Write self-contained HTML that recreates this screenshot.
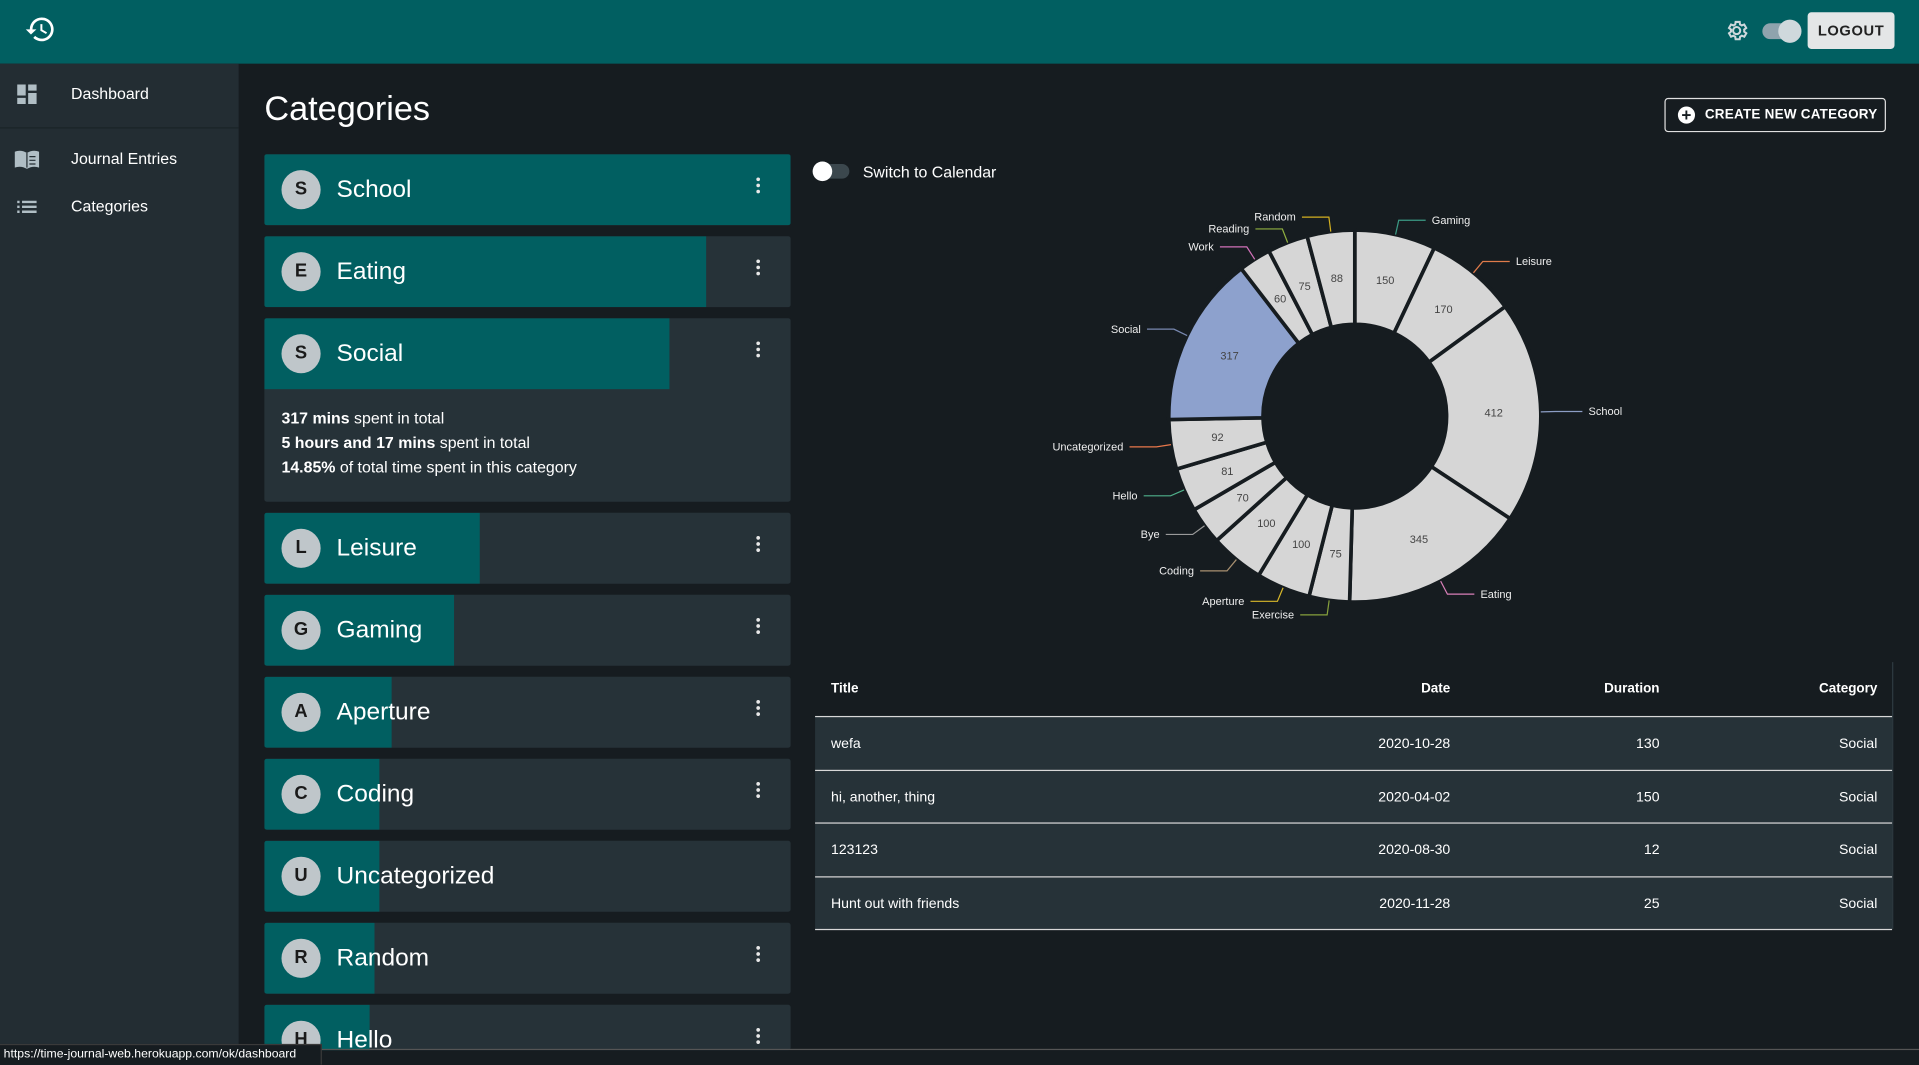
<!DOCTYPE html>
<html><head><meta charset="utf-8">
<style>
html,body{margin:0;padding:0;width:1919px;height:1065px;overflow:hidden;background:#161c20;font-family:"Liberation Sans",sans-serif;}
#wrap{position:absolute;left:0;top:0;width:1568px;height:870px;transform:scale(1.22385);transform-origin:0 0;background:#161c20;color:#fff;overflow:hidden;}
.abs{position:absolute;}
#header{left:0;top:0;width:1568px;height:52px;background:#015f61;}
#sidebar{left:0;top:52px;width:195px;height:818px;background:#232d33;}
.nav{position:absolute;left:0;width:195px;height:40px;font-size:13px;color:#fff;}
.nav span{position:absolute;left:58px;top:12px;}
.card{position:absolute;left:216px;width:430px;background:#263238;border-radius:2px;overflow:hidden;}
.card .fill{position:absolute;left:0;top:0;height:58px;background:#015f61;}
.avatar{position:absolute;left:14px;top:13px;width:32px;height:32px;border-radius:50%;background:#bfc6ca;color:#1a1a1a;font-weight:bold;font-size:15px;text-align:center;line-height:32px;}
.cname{position:absolute;left:59px;top:18px;font-size:20px;color:#fff;}
.kebab{position:absolute;left:400px;top:19px;width:6px;height:20px;}
.kebab i{display:block;width:3px;height:3px;border-radius:50%;background:#e8e8e8;margin:0 auto 2px;}
.th{font-size:11px;font-weight:bold;}
</style></head><body>
<div id="wrap">
<div id="header" class="abs">
  <svg class="abs" style="left:20px;top:11px" width="26" height="26" viewBox="0 0 24 24"><path fill="#fff" d="M13 3a9 9 0 0 0-9 9H1l3.9 3.9L9 12H6a7 7 0 1 1 2.05 4.95l-1.42 1.42A9 9 0 1 0 13 3zm-1 5v5l4.25 2.520.77-1.28-3.52-2.09V8z"/></svg>
  <svg class="abs" style="left:1409px;top:15px" width="20" height="20" viewBox="0 0 24 24"><path fill="none" stroke="#cfd8dc" stroke-width="2" d="M12 8.5a3.5 3.5 0 1 0 0 7a3.5 3.5 0 1 0 0-7zM19.4 13a7.5 7.5 0 0 0 0-2l2-1.6-2-3.4-2.4 1a7 7 0 0 0-1.7-1L15 3.5h-4L10.6 6a7 7 0 0 0-1.7 1l-2.4-1-2 3.4 2 1.6a7.5 7.5 0 0 0 0 2l-2 1.6 2 3.4 2.4-1a7 7 0 0 0 1.7 1L11 20.5h4l.4-2.5a7 7 0 0 0 1.7-1l2.4 1 2-3.4z"/></svg>
  <div class="abs" style="left:1440px;top:19px;width:30px;height:13px;border-radius:7px;background:#8fa3ad"><div class="abs" style="left:13px;top:-3px;width:19px;height:19px;border-radius:50%;background:#cfd8dc"></div></div>
  <div class="abs" style="left:1477px;top:10px;width:71px;height:30px;background:#e4e6e7;border-radius:3px;color:#222;font-size:12px;font-weight:bold;text-align:center;line-height:30px;letter-spacing:.5px">LOGOUT</div>
</div>
<div id="sidebar" class="abs">
  <div class="nav" style="top:5px">
    <svg class="abs" style="left:14px;top:12px" width="16" height="16" viewBox="0 0 16 16"><path fill="#b0bec5" d="M0 0h7v9H0zM9 0h7v5H9zM9 7h7v9H9zM0 11h7v5H0z"/></svg><span>Dashboard</span></div>
  <div class="abs" style="left:0;top:52px;width:195px;height:1px;background:#1b2328"></div>
  <div class="nav" style="top:58px">
    <svg class="abs" style="left:12px;top:13px" width="20" height="15" viewBox="0 0 20 15"><path fill="#b0bec5" d="M0 1q5-2 10 1q5-3 10-1v13q-5-2-10 1q-5-3-10-1z"/><path stroke="#232d33" stroke-width="1" d="M10 2v12M12 5h5M12 8h5M12 11h5"/></svg><span>Journal Entries</span></div>
  <div class="nav" style="top:97px">
    <svg class="abs" style="left:14px;top:14px" width="16" height="12" viewBox="0 0 16 12"><path fill="#b0bec5" d="M0 1h2v2H0zM4 1h12v2H4zM0 5h2v2H0zM4 5h12v2H4zM0 9h2v2H0zM4 9h12v2H4z"/></svg><span>Categories</span></div>
</div>

<div class="abs" style="left:216px;top:73px;font-size:28px">Categories</div>
<div class="abs" style="left:1360px;top:80px;width:179px;height:26px;border:1px solid #e0e0e0;border-radius:3px;font-size:11px;font-weight:bold;letter-spacing:.2px;line-height:26px;white-space:nowrap">
  <span class="abs" style="left:10px;top:6px;width:14px;height:14px;border-radius:50%;background:#fff;color:#161c20;font-size:14px;line-height:14px;text-align:center">+</span><span class="abs" style="left:32px;top:0">CREATE NEW CATEGORY</span></div>

<div id="cards"></div>

<div class="abs" style="left:664px;top:134px;width:30px;height:12px;border-radius:6px;background:#3b474d"><div class="abs" style="left:0;top:-2px;width:16px;height:16px;border-radius:50%;background:#fff"></div></div>
<div class="abs" style="left:705px;top:133px;font-size:13px">Switch to Calendar</div>

<svg id="donut" class="abs" style="left:0;top:0" width="1568" height="870"></svg>

<div class="abs" style="left:666px;top:541px;width:880px;height:218px;border-right:1px solid #2e3a40">
  <div class="abs th" style="left:13px;top:16px">Title</div>
  <div class="abs th" style="right:361px;top:16px">Date</div>
  <div class="abs th" style="right:190px;top:16px">Duration</div>
  <div class="abs th" style="right:12px;top:16px">Category</div>
  <div id="rows"></div>
</div>

<div class="abs" style="left:0;top:853px;width:263px;height:17px;background:#161c20;border-top:1px solid #3a3a3a;border-right:1px solid #3a3a3a;font-size:10px;line-height:16px;padding-left:3px;box-sizing:border-box;color:#fff">https://time-journal-web.herokuapp.com/ok/dashboard</div>
<div class="abs" style="left:263px;top:857px;width:1305px;height:1px;background:#555"></div>
</div>

<script>
// category list data
const catNames = ["School","Eating","Social","Leisure","Gaming","Aperture","Coding","Uncategorized","Random","Hello"];
const catFillWidths = [430,361,331,176,155,104,94,94,90,86];
const catExpanded = [false,false,true,false,false,false,false,false,false,false];
const catKebab = [true,true,true,true,true,true,true,false,true,true];
(function(){
  const host=document.getElementById('cards');
  let y=126;
  catNames.forEach((n,i)=>{
    const h=catExpanded[i]?150:58;
    const c=document.createElement('div');
    c.className='card';
    c.style.top=y+'px';c.style.height=(i===9?37:h)+'px';
    
    
    let html='<div class="fill" style="width:'+catFillWidths[i]+'px"></div><div class="avatar">'+n[0]+'</div><div class="cname">'+n+'</div>';
    if(catKebab[i]) html+='<div class="kebab"><i></i><i></i><i></i></div>';
    if(catExpanded[i]) html+='<div style="position:absolute;left:14px;top:72px;font-size:13px;line-height:20px"><b>317 mins</b> spent in total<br><b>5 hours and 17 mins</b> spent in total<br><b>14.85%</b> of total time spent in this category</div>';
    c.innerHTML=html;
    host.appendChild(c);
    y+=h+9;
  });
})();

// table data
const rowTitles=["wefa","hi, another, thing","123123","Hunt out with friends"];
const rowDates=["2020-10-28","2020-04-02","2020-08-30","2020-11-28"];
const rowDurations=[130,150,12,25];
const rowCats=["Social","Social","Social","Social"];
(function(){
  const host=document.getElementById('rows');
  rowTitles.forEach((t,i)=>{
    const r=document.createElement('div');
    r.className='abs';
    
    
    r.style.cssText='left:0;top:'+(44+i*43.5)+'px;width:880px;height:43px;background:#263238;border-top:1px solid #d8d8d8;font-size:11.5px;';
    r.innerHTML='<div class="abs" style="left:13px;top:16px">'+t+'</div><div class="abs" style="right:361px;top:16px">'+rowDates[i]+'</div><div class="abs" style="right:190px;top:16px">'+rowDurations[i]+'</div><div class="abs" style="right:12px;top:16px">'+rowCats[i]+'</div>';
    host.appendChild(r);
  });
  const b=document.createElement('div');
  b.className='abs';b.style.cssText='left:0;top:218px;width:880px;height:1px;background:#d8d8d8';
  host.appendChild(b);
})();

// donut data (clockwise from 12 o'clock)
const sliceLabels=["Gaming","Leisure","School","Eating","Exercise","Aperture","Coding","Bye","Hello","Uncategorized","Social","Work","Reading","Random"];
const sliceValues=[150,170,412,345,75,100,100,70,81,92,317,60,75,88];
const sliceLineColors=["#3b9a84","#e07b4a","#8c9dc4","#d87fb8","#86a03c","#d8b82a","#a89070","#9a9a9a","#4fb08a","#e8774a","#7888b0","#d070b8","#90b040","#d4b020"];
const highlighted="Social";
(function(){
  const svg=document.getElementById('donut');
  const NS='http://www.w3.org/2000/svg';
  const cx=1107,cy=340,r0=75,r1=152;
  const total=sliceValues.reduce((a,b)=>a+b,0);
  const pt=(a,r)=>[cx+r*Math.sin(a),cy-r*Math.cos(a)];
  let a=0;
  sliceValues.forEach((v,i)=>{
    const a0=a,a1=a+v/total*2*Math.PI;a=a1;
    const large=(a1-a0)>Math.PI?1:0;
    const p0=pt(a0,r1),p1=pt(a1,r1),p2=pt(a1,r0),p3=pt(a0,r0);
    const path=document.createElementNS(NS,'path');
    path.setAttribute('d','M'+p0+'A'+r1+','+r1+' 0 '+large+' 1 '+p1+'L'+p2+'A'+r0+','+r0+' 0 '+large+' 0 '+p3+'Z');
    path.setAttribute('fill',sliceLabels[i]===highlighted?'#8da1cd':'#d6d6d6');
    path.setAttribute('stroke','#161c20');path.setAttribute('stroke-width','3');
    
    
    svg.appendChild(path);
    const am=(a0+a1)/2;
    const tp=pt(am,(r0+r1)/2);
    const t=document.createElementNS(NS,'text');
    t.setAttribute('x',tp[0]);t.setAttribute('y',tp[1]+3);
    t.setAttribute('text-anchor','middle');t.setAttribute('font-size','9');t.setAttribute('fill','#444');
    t.textContent=v;
    
    
    svg.appendChild(t);
    const e0=pt(am,r1),e1=pt(am,r1+12);
    const right=Math.sin(am)>=0;
    const ex=e1[0]+(right?22:-22);
    const ln=document.createElementNS(NS,'polyline');
    ln.setAttribute('points',e0+' '+e1+' '+ex+','+e1[1]);
    ln.setAttribute('fill','none');ln.setAttribute('stroke',sliceLineColors[i]);ln.setAttribute('stroke-width','1');
    
    
    svg.appendChild(ln);
    const lt=document.createElementNS(NS,'text');
    lt.setAttribute('x',ex+(right?5:-5));lt.setAttribute('y',e1[1]+3);
    lt.setAttribute('text-anchor',right?'start':'end');lt.setAttribute('font-size','9');lt.setAttribute('fill','#eee');
    lt.textContent=sliceLabels[i];
    
    
    svg.appendChild(lt);
  });
})();
</script>
</body></html>
